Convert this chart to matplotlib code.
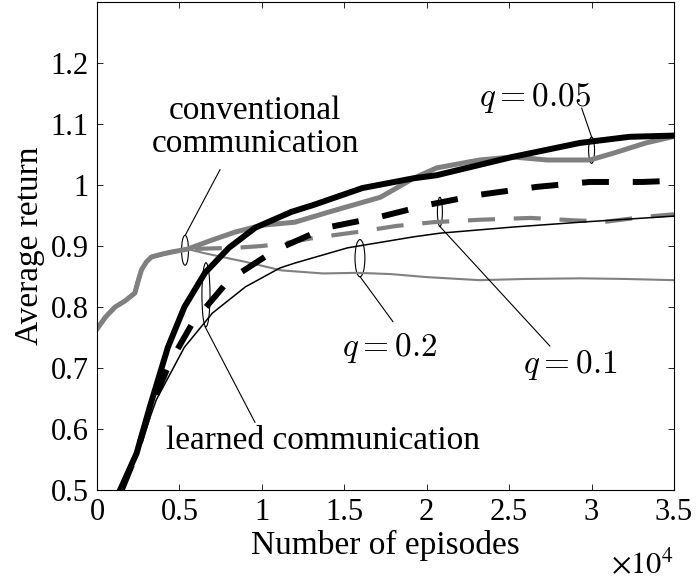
import matplotlib
matplotlib.use("Agg")
import matplotlib.pyplot as plt
from matplotlib.patches import Ellipse

# ---------------- data (x in units of 1e4 episodes) ----------------
conv_start_x = [0.0, 0.05, 0.11, 0.17, 0.23, 0.25, 0.27, 0.30, 0.33, 0.40, 0.45, 0.55]
conv_start_y = [0.764, 0.783, 0.800, 0.810, 0.823, 0.843, 0.861, 0.874, 0.882, 0.887, 0.890, 0.895]

conv005_x = conv_start_x + [0.70, 0.84, 1.0, 1.2, 1.41, 1.72, 1.92, 2.06, 2.32, 2.52, 2.73, 2.99, 3.13, 3.33, 3.49]
conv005_y = conv_start_y + [0.910, 0.923, 0.934, 0.939, 0.956, 0.980, 1.011, 1.028, 1.041, 1.046, 1.041, 1.041, 1.052, 1.069, 1.079]

conv01_x = conv_start_x + [0.84, 1.0, 1.13, 1.31, 1.58, 1.82, 2.04, 2.32, 2.63, 2.90, 3.09, 3.33, 3.50]
conv01_y = conv_start_y + [0.897, 0.900, 0.904, 0.913, 0.923, 0.933, 0.939, 0.943, 0.946, 0.942, 0.940, 0.948, 0.952]

conv02_x = conv_start_x + [0.655, 0.9, 1.12, 1.37, 1.58, 1.78, 2.0, 2.32, 2.6, 2.93, 3.2, 3.5]
conv02_y = conv_start_y + [0.888, 0.874, 0.860, 0.855, 0.856, 0.854, 0.849, 0.844, 0.846, 0.847, 0.846, 0.844]

learn005_x = [0.14, 0.24, 0.32, 0.43, 0.53, 0.655, 0.80, 0.96, 1.18, 1.31, 1.61, 1.92, 2.06, 2.52, 2.93, 3.23, 3.50]
learn005_y = [0.50, 0.56, 0.636, 0.734, 0.800, 0.856, 0.897, 0.930, 0.956, 0.967, 0.995, 1.011, 1.016, 1.046, 1.069, 1.079, 1.081]

learn01_x = [0.15, 0.24, 0.32, 0.44, 0.58, 0.80, 1.08, 1.39, 1.72, 2.0, 2.32, 2.67, 2.99, 3.31, 3.50]
learn01_y = [0.50, 0.56, 0.63, 0.708, 0.774, 0.844, 0.893, 0.930, 0.948, 0.967, 0.984, 0.997, 1.005, 1.005, 1.007]

learn02_x = [0.15, 0.25, 0.36, 0.53, 0.70, 0.90, 1.11, 1.20, 1.52, 1.92, 2.08, 2.52, 2.93, 3.50]
learn02_y = [0.50, 0.565, 0.648, 0.734, 0.790, 0.833, 0.864, 0.872, 0.897, 0.915, 0.921, 0.931, 0.939, 0.949]

xticks = [0, 0.5, 1, 1.5, 2, 2.5, 3, 3.5]
xtick_labels = ["0", "0.5", "1", "1.5", "2", "2.5", "3", "3.5"]
yticks = [0.5, 0.6, 0.7, 0.8, 0.9, 1.0, 1.1, 1.2]
ytick_labels = ["0.5", "0.6", "0.7", "0.8", "0.9", "1", "1.1", "1.2"]

# ---------------- figure ----------------
plt.rcParams["font.family"] = ["Liberation Serif", "DejaVu Serif"]
fig = plt.figure(figsize=(6.96, 5.85), dpi=100)
ax = fig.add_axes([97/696, 95/585, 577/696, 488/585])

gray = "#808080"
ax.plot(conv02_x, conv02_y, color=gray, lw=1.5)
ax.plot(conv01_x, conv01_y, color=gray, lw=3.0, dashes=(6.5, 4.5))
ax.plot(conv005_x, conv005_y, color=gray, lw=3.6)
ax.plot(learn02_x, learn02_y, color="black", lw=1.1)
ax.plot(learn01_x, learn01_y, color="black", lw=4.3, dashes=(4.5, 4.0))
ax.plot(learn005_x, learn005_y, color="black", lw=4.3)

ax.set_xlim(0, 3.5)
ax.set_ylim(0.5, 1.3)
ax.set_xticks(xticks)
ax.set_xticklabels(xtick_labels)
ax.set_yticks(yticks)
ax.set_yticklabels(ytick_labels)
ax.tick_params(direction="in", top=True, right=True, length=4, width=0.6,
               labelsize=22, pad=6)
for s in ax.spines.values():
    s.set_linewidth(0.8)

ax.set_xlabel("Number of episodes", fontsize=24, labelpad=2)
ax.set_ylabel("Average return", fontsize=24, labelpad=4)
ax.text(1.0, -0.155, r"$\times 10^4$", transform=ax.transAxes, ha="right",
        va="center", fontsize=22, math_fontfamily="stix")

# ---------------- annotations ----------------
def ell(cx, cy, w, h):
    ax.add_patch(Ellipse((cx, cy), w, h, fill=False, ec="black", lw=0.8))

def seg(x0, y0, x1, y1):
    ax.plot([x0, x1], [y0, y1], color="black", lw=0.8)

# conventional
ell(0.534, 0.893, 0.042, 0.049)
seg(0.534, 0.917, 0.746, 1.025)
ax.text(0.96, 1.095, "conventional\ncommunication", ha="center", va="center",
        fontsize=24, linespacing=1.12)
# learned
ell(0.661, 0.820, 0.049, 0.105)
seg(0.655, 0.768, 0.958, 0.611)
ax.text(1.37, 0.580, "learned communication", ha="center", va="center", fontsize=24)
# q = 0.2
ell(1.595, 0.880, 0.06, 0.061)
seg(1.595, 0.850, 1.795, 0.776)
ax.text(1.775, 0.732, r"$q=0.2$", ha="center", va="center", fontsize=24,
        math_fontfamily="cm")
# q = 0.1
ell(2.08, 0.956, 0.03, 0.048)
seg(2.08, 0.932, 2.747, 0.736)
ax.text(2.868, 0.705, r"$q=0.1$", ha="center", va="center", fontsize=24,
        math_fontfamily="cm")
# q = 0.05
ell(3.0, 1.057, 0.036, 0.043)
seg(3.0, 1.079, 2.94, 1.126)
ax.text(2.656, 1.142, r"$q=0.05$", ha="center", va="center", fontsize=24,
        math_fontfamily="cm")

fig.savefig("out.png", dpi=100)
